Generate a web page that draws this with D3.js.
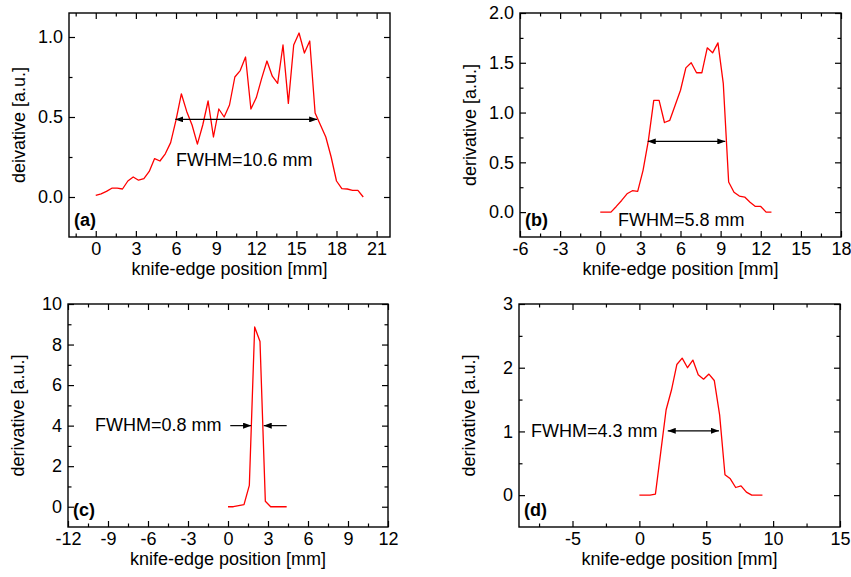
<!DOCTYPE html>
<html>
<head>
<meta charset="utf-8">
<script src="https://cdn.jsdelivr.net/npm/d3@7"></script>
<style>
  body { margin: 0; background: #fff; }
  svg text { font-family: "Liberation Sans", Arial, sans-serif; fill: #000; }
</style>
</head>
<body>
<svg id="chart" width="851" height="577"></svg>
<script>
// Panel (a)
const xA = [0,0.4,0.8,1.2,1.6,2.0,2.4,2.8,3.2,3.6,4.0,4.4,4.8,5.2,5.6,6.0,6.4,6.8,7.2,7.6,8.0,8.4,8.8,9.2,9.6,10.0,10.4,10.8,11.2,11.6,12.0,12.4,12.8,13.2,13.6,14.0,14.4,14.8,15.2,15.6,16.0,16.4,16.8,17.2,17.6,18.0,18.4,18.8,19.2,19.6,20.0];
const yA = [0.01,0.02,0.035,0.055,0.055,0.05,0.1,0.125,0.105,0.115,0.16,0.24,0.225,0.27,0.34,0.48,0.645,0.535,0.45,0.33,0.45,0.6,0.375,0.55,0.5,0.575,0.75,0.79,0.875,0.55,0.62,0.74,0.85,0.755,0.71,0.95,0.585,0.95,1.025,0.9,0.975,0.525,0.45,0.375,0.25,0.1,0.052,0.05,0.042,0.042,0.0];
// Panel (b)
const xB = [0,0.4,0.8,1.2,1.6,2.0,2.4,2.8,3.2,3.6,4.0,4.4,4.8,5.2,5.6,6.0,6.4,6.8,7.2,7.6,8.0,8.4,8.8,9.2,9.6,10.0,10.4,10.8,11.2,11.6,12.0,12.4,12.8];
const yB = [0,0,0,0.057,0.117,0.184,0.215,0.208,0.42,0.72,1.123,1.123,0.9,0.922,1.073,1.224,1.449,1.5,1.4,1.4,1.65,1.6,1.7,1.29,0.302,0.2,0.161,0.151,0.1,0.057,0.057,0,0];
// Panel (c)
const xC = [0,0.4,0.8,1.2,1.6,2.0,2.4,2.8,3.2,3.6,4.0,4.4];
const yC = [0,0,0.05,0.1,1.05,8.87,8.15,0.27,0,0,0,0];
// Panel (d)
const xD = [0,0.4,0.8,1.2,1.6,2.0,2.4,2.8,3.2,3.6,4.0,4.4,4.8,5.2,5.6,6.0,6.4,6.8,7.2,7.6,8.0,8.4,8.8,9.2];
const yD = [0,0,0,0.016,0.68,1.34,1.65,2.05,2.15,2.0,2.12,1.89,1.82,1.9,1.8,1.26,0.32,0.256,0.12,0.146,0.047,0,0,0];

// tick values
const xMajA = [0,3,6,9,12,15,18,21], xMinA = [-1.5,1.5,4.5,7.5,10.5,13.5,16.5,19.5];
const yMajA = [0,0.5,1.0], yMinA = [0.25,0.75];
const xMajB = [-6,-3,0,3,6,9,12,15,18], xMinB = [-4.5,-1.5,1.5,4.5,7.5,10.5,13.5,16.5];
const yMajB = [0,0.5,1.0,1.5,2.0], yMinB = [0.25,0.75,1.25,1.75];
const xMajC = [-12,-9,-6,-3,0,3,6,9,12], xMinC = [-10.5,-7.5,-4.5,-1.5,1.5,4.5,7.5,10.5];
const yMajC = [0,2,4,6,8,10], yMinC = [1,3,5,7,9];
const xMajD = [-5,0,5,10,15], xMinD = [-7.5,-2.5,2.5,7.5,12.5];
const yMajD = [0,1,2,3], yMinD = [0.5,1.5,2.5];

// FWHM annotations: [x1, x2, y]
const fwhmA = [5.95, 16.55, 0.485];
const fwhmB = [3.55, 9.35, 0.71];
const fwhmC = [[0.17, 1.73, 4.0], [4.4, 2.68, 4.0]];
const fwhmD = [2.12, 5.95, 1.01];

const svg = d3.select("#chart");
const plainInt = function(d) { return String(d); };   // keep ASCII hyphen for negatives

// arrow head marker
const defs = svg.append("defs");
defs.append("marker")
    .attr("id", "head")
    .attr("viewBox", "0 0 8 6")
    .attr("refX", 8).attr("refY", 3)
    .attr("markerWidth", 8).attr("markerHeight", 6)
    .attr("markerUnits", "userSpaceOnUse")
    .attr("orient", "auto-start-reverse")
    .append("path")
    .attr("d", "M0,0 L8,3 L0,6 Z")
    .attr("fill", "#000");

function drawPanel(p) {
    let x = d3.scaleLinear().domain(p.xDomain).range([p.left, p.right]);
    let y = d3.scaleLinear().domain(p.yDomain).range([p.bottom, p.top]);
    let g = svg.append("g");

    // ticks on all four sides, pointing inward
    const makers = [d3.axisBottom, d3.axisTop, d3.axisLeft, d3.axisRight];
    const places = [p.bottom, p.top, p.left, p.right];
    makers.forEach(function(mk, i) {
        const isX = i < 2;
        const sc = isX ? x : y;
        const pos = isX ? "translate(0," + places[i] + ")" : "translate(" + places[i] + ",0)";
        const fmt = i === 0 ? plainInt : (i === 2 ? p.yFmt : "");
        g.append("g").attr("transform", pos)
            .call(mk(sc).tickValues(isX ? p.xMaj : p.yMaj).tickSizeInner(-6).tickSizeOuter(0)
                .tickPadding(i === 0 ? 5 : 6).tickFormat(fmt))
            .call(sel => sel.select(".domain").remove())
            .call(sel => sel.selectAll("text").style("font-size", "18px")
                .style("font-family", "'Liberation Sans', Arial, sans-serif").attr("fill", "#000"))
            .call(sel => sel.selectAll("line").attr("stroke-width", 1.2));
        g.append("g").attr("transform", pos)
            .call(mk(sc).tickValues(isX ? p.xMin : p.yMin).tickSizeInner(-3.5).tickSizeOuter(0).tickFormat(""))
            .call(sel => sel.select(".domain").remove())
            .call(sel => sel.selectAll("line").attr("stroke-width", 1.2));
    });

    // frame
    g.append("rect")
        .attr("x", p.left).attr("y", p.top)
        .attr("width", p.right - p.left).attr("height", p.bottom - p.top)
        .attr("fill", "none").attr("stroke", "#000").attr("stroke-width", 1.4);

    // data line
    let line = d3.line()
        .x(function(d) { return x(d[0]); })
        .y(function(d) { return y(d[1]); });
    g.append("path")
        .datum(d3.zip(p.xs, p.ys))
        .attr("d", line)
        .attr("fill", "none")
        .attr("stroke", "#ff0000")
        .attr("stroke-width", 1.3)
        .attr("stroke-linejoin", "round");

    // FWHM arrows
    p.arrows.forEach(function(a) {
        let l = g.append("line")
            .attr("x1", x(a[0])).attr("x2", x(a[1]))
            .attr("y1", y(a[2])).attr("y2", y(a[2]))
            .attr("stroke", "#000").attr("stroke-width", 1.2)
            .attr("marker-end", "url(#head)");
        if (a[3]) l.attr("marker-start", "url(#head)");
    });
    g.append("text")
        .attr("x", p.fwhmPos[0]).attr("y", p.fwhmPos[1])
        .attr("dominant-baseline", "central")
        .style("font-size", "18px")
        .text(p.fwhmText);

    // panel tag
    g.append("text")
        .attr("x", p.left + 5).attr("y", p.bottom - 17)
        .attr("dominant-baseline", "central")
        .style("font-size", "18px").style("font-weight", "bold")
        .text(p.tag);

    // axis titles
    g.append("text")
        .attr("x", (p.left + p.right) / 2).attr("y", p.bottom + 38)
        .attr("text-anchor", "middle")
        .style("font-size", "18px")
        .text("knife-edge position [mm]");
    g.append("text")
        .attr("transform", "translate(" + (p.left - 50) + "," + ((p.top + p.bottom) / 2) + ") rotate(-90)")
        .attr("text-anchor", "middle")
        .attr("dominant-baseline", "central")
        .style("font-size", "18px")
        .text(p.yTitle);
}

drawPanel({
    left: 69, right: 390, top: 13, bottom: 237,
    xDomain: [-2, 22], yDomain: [-0.25, 1.15],
    xMaj: xMajA, xMin: xMinA, yMaj: yMajA, yMin: yMinA, yFmt: d3.format(".1f"),
    xs: xA, ys: yA,
    arrows: [[fwhmA[0], fwhmA[1], fwhmA[2], true]],
    fwhmText: "FWHM=10.6 mm", fwhmPos: [176, 160],
    tag: "(a)", yTitle: "deivative [a.u.]"
});
drawPanel({
    left: 520, right: 841, top: 13, bottom: 237,
    xDomain: [-6, 18], yDomain: [-0.25, 2.0],
    xMaj: xMajB, xMin: xMinB, yMaj: yMajB, yMin: yMinB, yFmt: d3.format(".1f"),
    xs: xB, ys: yB,
    arrows: [[fwhmB[0], fwhmB[1], fwhmB[2], true]],
    fwhmText: "FWHM=5.8 mm", fwhmPos: [618, 220],
    tag: "(b)", yTitle: "derivative [a.u.]"
});
drawPanel({
    left: 68, right: 388, top: 304, bottom: 527,
    xDomain: [-12, 12], yDomain: [-1, 10],
    xMaj: xMajC, xMin: xMinC, yMaj: yMajC, yMin: yMinC, yFmt: plainInt,
    xs: xC, ys: yC,
    arrows: [[fwhmC[0][0], fwhmC[0][1], fwhmC[0][2], false], [fwhmC[1][0], fwhmC[1][1], fwhmC[1][2], false]],
    fwhmText: "FWHM=0.8 mm", fwhmPos: [95, 425],
    tag: "(c)", yTitle: "derivative [a.u.]"
});
drawPanel({
    left: 519, right: 840, top: 304, bottom: 527,
    xDomain: [-9, 15], yDomain: [-0.5, 3],
    xMaj: xMajD, xMin: xMinD, yMaj: yMajD, yMin: yMinD, yFmt: plainInt,
    xs: xD, ys: yD,
    arrows: [[fwhmD[0], fwhmD[1], fwhmD[2], true]],
    fwhmText: "FWHM=4.3 mm", fwhmPos: [531, 431],
    tag: "(d)", yTitle: "derivative [a.u.]"
});
</script>
</body>
</html>
